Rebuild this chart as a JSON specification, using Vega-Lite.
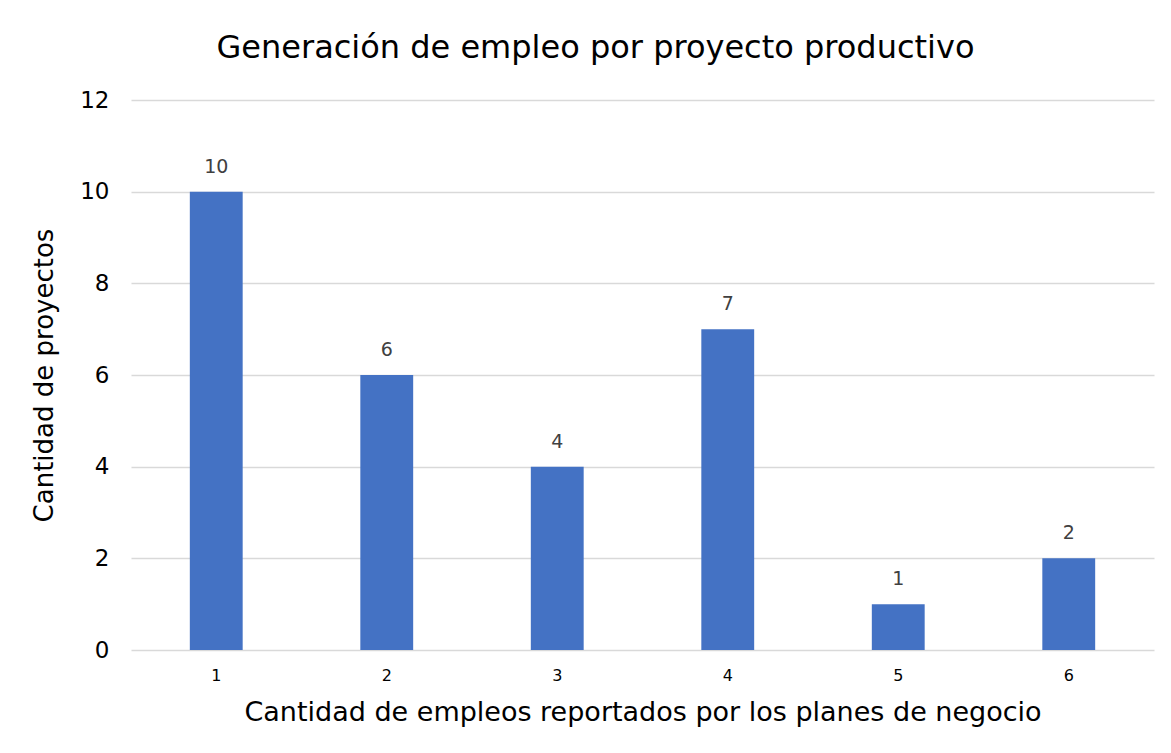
{
  "$schema": "https://vega.github.io/schema/vega-lite/v6.json",
  "autosize": {"type": "none"},
  "width": 1023,
  "height": 550,
  "padding": {"left": 131, "top": 100, "right": 17, "bottom": 103},
  "background": "white",
  "title": {
    "text": "Generación de empleo por proyecto productivo",
    "font": "DejaVu Sans",
    "fontSize": 32,
    "fontWeight": "normal",
    "color": "#000000",
    "anchor": "middle",
    "dx": -47,
    "offset": 24
  },
  "data": {
    "values": [
      {"empleos": "1", "proyectos": 10},
      {"empleos": "2", "proyectos": 6},
      {"empleos": "3", "proyectos": 4},
      {"empleos": "4", "proyectos": 7},
      {"empleos": "5", "proyectos": 1},
      {"empleos": "6", "proyectos": 2}
    ]
  },
  "encoding": {
    "x": {
      "field": "empleos",
      "type": "ordinal",
      "scale": {"paddingInner": 0.69, "paddingOuter": 0.345},
      "axis": {
        "title": "Cantidad de empleos reportados por los planes de negocio",
        "titleFont": "DejaVu Sans",
        "titleFontSize": 27,
        "titleFontWeight": "normal",
        "titleColor": "#000000",
        "titlePadding": 16,
        "labelFont": "DejaVu Sans",
        "labelFontSize": 16,
        "labelColor": "#000000",
        "labelAngle": 0,
        "labelPadding": 17,
        "ticks": false,
        "domain": false
      }
    },
    "y": {
      "field": "proyectos",
      "type": "quantitative",
      "scale": {"domain": [0, 12]},
      "axis": {
        "title": "Cantidad de proyectos",
        "values": [0, 2, 4, 6, 8, 10, 12],
        "titleFont": "DejaVu Sans",
        "titleFontSize": 26,
        "titleFontWeight": "normal",
        "titleColor": "#000000",
        "titlePadding": 22,
        "labelFont": "DejaVu Sans",
        "labelFontSize": 23,
        "labelColor": "#000000",
        "labelPadding": 22,
        "ticks": false,
        "domain": false,
        "grid": true,
        "gridColor": "#d9d9d9",
        "gridWidth": 1.5
      }
    }
  },
  "layer": [
    {"mark": {"type": "bar", "color": "#4472C4"}},
    {
      "mark": {"type": "text", "baseline": "bottom", "dy": -15, "font": "DejaVu Sans", "fontSize": 19, "color": "#404040"},
      "encoding": {"text": {"field": "proyectos", "type": "quantitative"}}
    }
  ],
  "config": {"view": {"stroke": null}}
}
